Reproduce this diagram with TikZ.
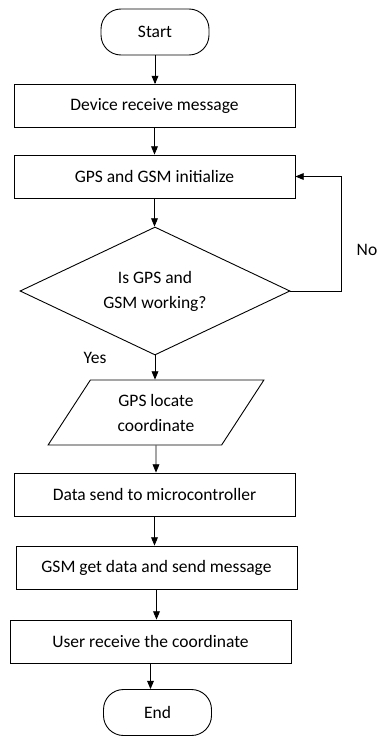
\documentclass[tikz,border=0pt]{standalone}
\usepackage{fontspec}
\setmainfont{Carlito}
\usetikzlibrary{shapes,arrows}

\begin{document}
\begin{tikzpicture}[x=1pt, y=-1pt, line width=0.9pt, >=triangle 45,
    font=\fontsize{17.5}{25}\selectfont,
    process/.style={draw, rectangle, minimum width=281pt, minimum height=43pt},
    terminal/.style={draw, rectangle, rounded corners=20pt, minimum width=108pt, minimum height=46pt},
    decision/.style={draw, diamond, aspect=2.1, minimum width=270pt, minimum height=128pt, align=center, inner sep=0pt},
    io/.style={draw, trapezium, trapezium left angle=56.5, trapezium right angle=123.5,
        trapezium stretches=true, minimum width=216pt, minimum height=65pt, align=center, inner sep=0pt}]

\useasboundingbox (0,0) rectangle (379,736);

\draw
    node at(155,32)[terminal,name=start]{Start}
    node at(154.5,106)[process,name=devrecv]{Device receive message}
    node at(154.5,176.5)[process,name=init]{GPS and GSM initialize}
    node at(155,291)[decision,name=check]{Is GPS and\\GSM working?}
    node at(156,412.5)[io,name=locate]{GPS locate\\coordinate}
    node at(154.5,494.5)[process,name=send]{Data send to microcontroller}
    node at(156.5,567.5)[process,name=gsmmsg]{GSM get data and send message}
    node at(150.5,641.5)[process,name=userrecv]{User receive the coordinate}
    node at(157.5,712.5)[terminal,name=finish]{End}

    node at(95,358)[name=yes]{Yes}
    node at(367,250)[name=no]{No}
;
    \draw[->](start) -- (start |- devrecv.north);
    \draw[->](devrecv) -- (devrecv |- init.north);
    \draw[->](init) -- (init |- check.north);
    \draw[->](check) -- (check |- locate.north);
    \draw[->](locate) -- (locate |- send.north);
    \draw[->](send) -- (send |- gsmmsg.north);
    \draw[->](gsmmsg) -- (gsmmsg |- userrecv.north);
    \draw[->](userrecv) -- (userrecv |- finish.north);

    \draw[->](check.east) -- ++(51,0) |- (init.east);

\end{tikzpicture}
\end{document}
